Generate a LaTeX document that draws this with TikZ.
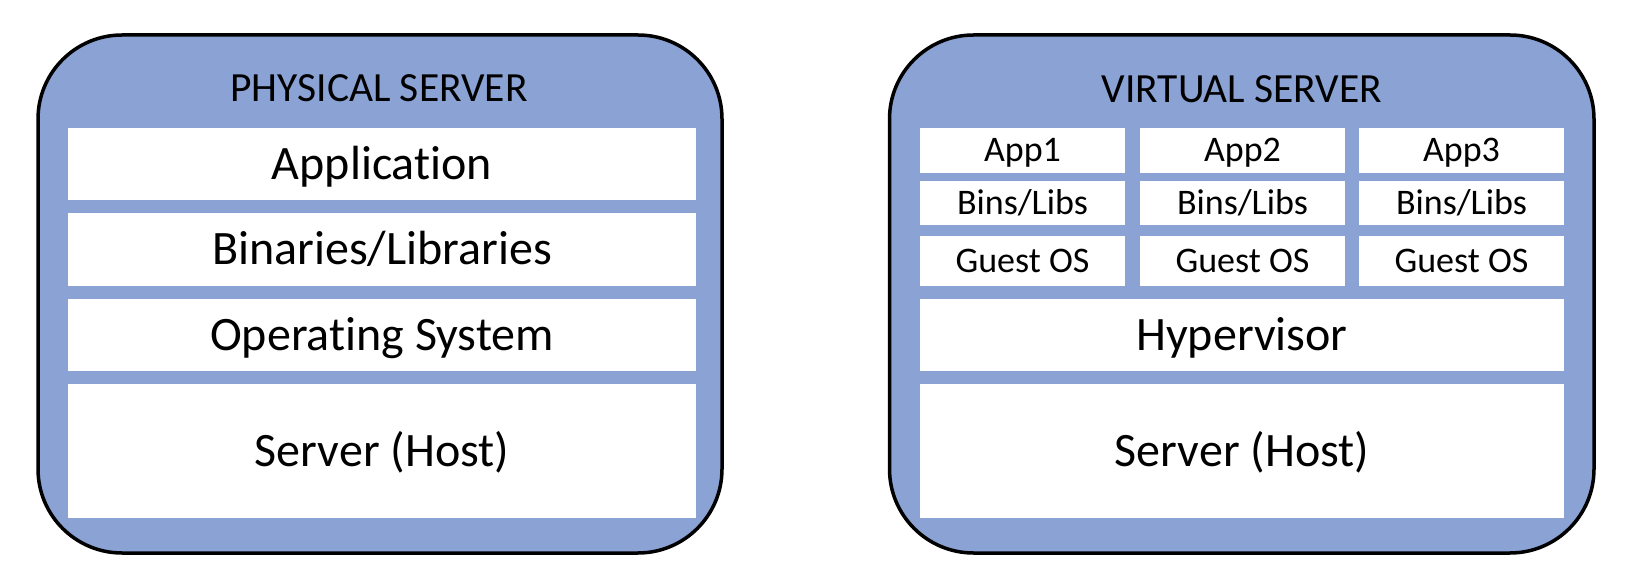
\documentclass[tikz,border=0pt]{standalone}
\usepackage{fontspec}
\setmainfont[Ligatures=NoCommon]{Carlito}
\definecolor{srvblue}{RGB}{138,162,212}
\tikzset{
  outerbox/.style={draw=black, line width=3.5pt, fill=srvblue, rounded corners=84pt},
  wbox/.style={fill=white, draw=none, inner sep=0pt, anchor=center},
  bigtxt/.style={wbox, font=\fontsize{48}{56}\selectfont, text height=30.3pt, text depth=0pt},
  smalltxt/.style={wbox, font=\fontsize{36}{43}\selectfont, text height=22.7pt, text depth=0pt},
  titletxt/.style={inner sep=0pt, anchor=base, font=\fontsize{41.5}{50}\selectfont},
}
\begin{document}
\begin{tikzpicture}[x=1pt, y=-1pt]
\useasboundingbox (0,0) rectangle (1626,588);
% outer boxes
\draw[outerbox] (38,35) rectangle (722,553);
\draw[outerbox] (889.5,35) rectangle (1594,553);
% titles
\node[titletxt] (ptitle) at (379,102) {PHYSICAL SERVER};
\node[titletxt] (vtitle) at (1242,103) {VIRTUAL SERVER};
% physical stack
\node[bigtxt, minimum width=628pt, minimum height=72pt] (papp) at (382,164) {Application};
\node[bigtxt, minimum width=628pt, minimum height=73pt] (pbin) at (382,249.5) {Binaries/Libraries};
\node[bigtxt, minimum width=628pt, minimum height=72pt] (pos) at (382,335) {Operating System};
\node[bigtxt, minimum width=628pt, minimum height=134pt] (phost) at (382,451) {Server (Host)};
% virtual stack
\foreach \i/\cx in {1/1022.5, 2/1242.5, 3/1461.5} {
  \node[smalltxt, minimum width=205pt, minimum height=45pt] (app\i) at (\cx,150.5) {App\i};
  \node[smalltxt, minimum width=205pt, minimum height=44pt] (bins\i) at (\cx,203) {Bins/Libs};
  \node[smalltxt, minimum width=205pt, minimum height=50pt] (guest\i) at (\cx,261) {Guest OS};
}
\node[bigtxt, minimum width=644pt, minimum height=72pt] (hyp) at (1242,335) {Hypervisor};
\node[bigtxt, minimum width=644pt, minimum height=134pt] (vhost) at (1242,451) {Server (Host)};
\end{tikzpicture}
\end{document}
